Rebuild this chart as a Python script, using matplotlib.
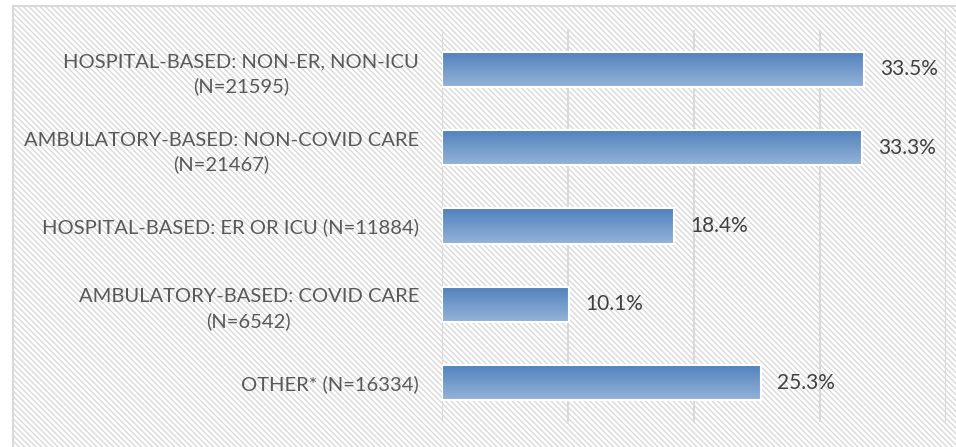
import numpy as np
import matplotlib.pyplot as plt
from matplotlib.patches import Rectangle
from matplotlib.colors import LinearSegmentedColormap

categories = [
    "HOSPITAL-BASED: NON-ER, NON-ICU\n(N=21595)",
    "AMBULATORY-BASED: NON-COVID CARE\n(N=21467)",
    "HOSPITAL-BASED: ER OR ICU (N=11884)",
    "AMBULATORY-BASED: COVID CARE\n(N=6542)",
    "OTHER* (N=16334)",
]
values = [33.5, 33.3, 18.4, 10.1, 25.3]
value_labels = ["33.5%", "33.3%", "18.4%", "10.1%", "25.3%"]

plt.rcParams['font.family'] = ['Lato', 'DejaVu Sans']
plt.rcParams['hatch.linewidth'] = 1.0
plt.rcParams['hatch.color'] = '#D0D0D0'

fig = plt.figure(figsize=(9.56, 4.47), dpi=100)

# hatched chart background with thin border
bg = fig.add_axes([0, 0, 1, 1])
bg.set_xlim(0, 956)
bg.set_ylim(447, 0)
bg.axis('off')
bg.add_patch(Rectangle((13, 6), 960, 460, facecolor='white', edgecolor='#D9D9D9',
                       hatch='\\' * 6, linewidth=1.5))

ax = fig.add_axes([442 / 956, 25 / 447, 504 / 956, 392 / 447])
ax.set_facecolor('none')

y = np.arange(len(values))
height = 0.45
bars = ax.barh(y, values, height=height, facecolor='none', edgecolor='white', linewidth=1.5, zorder=3)

grad = LinearSegmentedColormap.from_list('g', ['#4F81BD', '#95B3D7'])
g = np.linspace(0, 1, 64).reshape(-1, 1)
for b, v in zip(bars, values):
    im = ax.imshow(g, cmap=grad, aspect='auto', extent=[0, v, b.get_y() + height, b.get_y()],
                   zorder=2, interpolation='bilinear')
    im.set_clip_path(b)

for yi, v, lab in zip(y, values, value_labels):
    ax.text(v + 1.3, yi, lab, va='center', ha='left', fontsize=15, color='#404040', zorder=4)

ax.set_xlim(0, 40)
ax.set_ylim(len(values) - 0.5, -0.5)
ax.set_xticks([0, 10, 20, 30, 40])
ax.xaxis.grid(True, color='#D9D9D9', linewidth=1.5)
ax.set_axisbelow(True)
ax.tick_params(axis='x', bottom=False, labelbottom=False)
ax.tick_params(axis='y', left=False, pad=13)
ax.set_yticks(y)
ax.set_yticklabels(categories, fontsize=14.5, color='#595959', multialignment='center',
                   linespacing=1.45)
for s in ax.spines.values():
    s.set_visible(False)

plt.savefig('out.png', dpi=100)
